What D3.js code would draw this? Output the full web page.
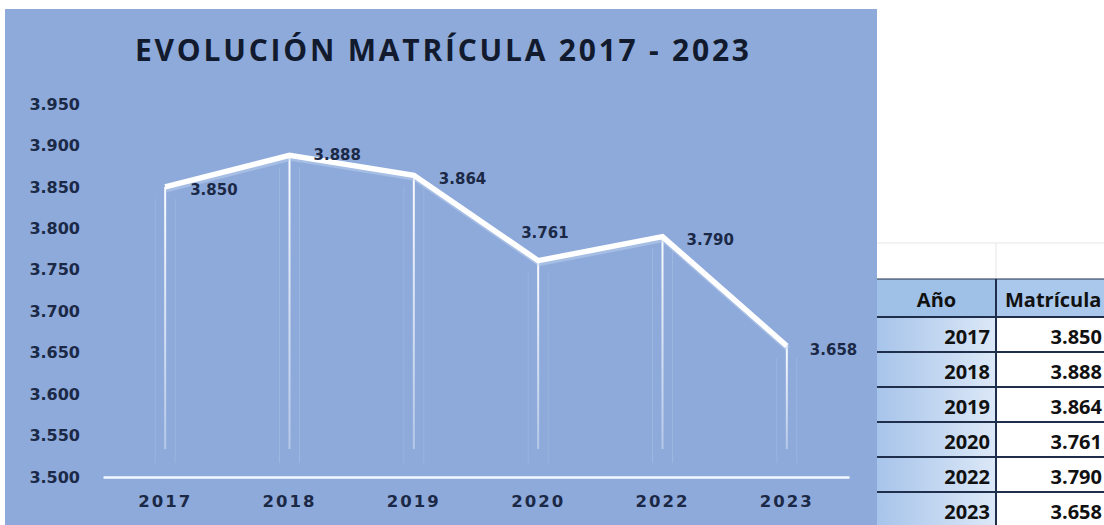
<!DOCTYPE html>
<html lang="es">
<head>
<meta charset="UTF-8">
<title>Evolución matrícula 2017 - 2023</title>
<script src="https://d3js.org/d3.v7.min.js"></script>
<style>
  body { margin: 0; background: #fff; }
  svg { display: block; }
</style>
</head>
<body>
<div id="chart"></div>
<script>
// data
const years = ["2017", "2018", "2019", "2020", "2022", "2023"];
const enrolment = [3850, 3888, 3864, 3761, 3790, 3658];
const yTicks = [3500, 3550, 3600, 3650, 3700, 3750, 3800, 3850, 3900, 3950];
const titleText = "EVOLUCIÓN  MATRÍCULA 2017 - 2023";
const tableHeader = ["Año", "Matrícula"];

// label nudges (dx, dy) so the value labels sit like in the original
const labelNudge = [[25, 3], [24, -1], [25, 3], [-17, -28], [24, 3], [23, 4]];

const W = 1104, H = 525;
const esLocale = d3.formatLocale({ decimal: ",", thousands: ".", grouping: [3], currency: ["$", ""] });
const fmt = esLocale.format(",d");

const svg = d3.select("#chart").append("svg")
    .attr("width", W)
    .attr("height", H);

const defs = svg.append("defs");
const dropGrad = defs.append("linearGradient")
    .attr("id", "dropFade").attr("x1", 0).attr("y1", 0).attr("x2", 0).attr("y2", 1);
dropGrad.append("stop").attr("offset", "0%").attr("stop-color", "#fff").attr("stop-opacity", 0.95);
dropGrad.append("stop").attr("offset", "100%").attr("stop-color", "#fff").attr("stop-opacity", 0.35);

const yearGrad = defs.append("linearGradient")
    .attr("id", "yearCell").attr("x1", 0).attr("y1", 0).attr("x2", 1).attr("y2", 0);
yearGrad.append("stop").attr("offset", "0%").attr("stop-color", "#a7c4ea");
yearGrad.append("stop").attr("offset", "100%").attr("stop-color", "#dce8f7");

// chart panel
svg.append("rect")
    .attr("x", 5).attr("y", 9)
    .attr("width", 872).attr("height", H - 9)
    .attr("fill", "#8eaadb");

svg.append("text")
    .attr("x", 442).attr("y", 61)
    .attr("text-anchor", "middle")
    .attr("textLength", 614)
    .attr("lengthAdjust", "spacing")
    .style("font-family", "'Open Sans', sans-serif")
    .style("font-weight", 700)
    .style("font-size", "30px")
    .attr("fill", "#121a2e")
    .text(titleText);

const x = d3.scaleBand().domain(years).range([103, 849]);
const y = d3.scaleLinear().domain([3500, 3950]).range([477, 104]);
const cx = d => x(d) + x.bandwidth() / 2;

// y axis labels
const yAxis = svg.append("g")
    .attr("transform", "translate(80,0)")
    .call(d3.axisLeft(y).tickValues(yTicks).tickFormat(fmt).tickSize(0).tickPadding(0));
yAxis.select(".domain").remove();
yAxis.selectAll("text")
    .style("font-family", "'DejaVu Sans', sans-serif")
    .style("font-weight", 700)
    .style("font-size", "16px")
    .attr("fill", "#1b2946");

// drop lines
const pts = years.map((yr, i) => ({ yr, v: enrolment[i], i }));
const drops = svg.append("g");
pts.forEach(p => {
    const px = cx(p.yr), py = y(p.v);
    [-10, 10].forEach(off => {
        drops.append("line")
            .attr("x1", px + off).attr("x2", px + off)
            .attr("y1", py + 12).attr("y2", y(3500) - 14)
            .attr("stroke", "#c9d8f2").attr("stroke-opacity", 0.25).attr("stroke-width", 1);
    });
    drops.append("rect")
        .attr("x", px - 1).attr("y", py)
        .attr("width", 2).attr("height", y(3500) - 28 - py)
        .attr("fill", "url(#dropFade)");
});

// x axis
const xAxis = svg.append("g")
    .attr("transform", `translate(0,${y(3500)})`)
    .call(d3.axisBottom(x).tickSize(0).tickPadding(18));
xAxis.select(".domain")
    .attr("stroke", "#f4f8ff").attr("stroke-width", 2.5);
xAxis.selectAll("text")
    .style("font-family", "'DejaVu Sans', sans-serif")
    .style("font-weight", 700)
    .style("font-size", "16.5px")
    .style("letter-spacing", "2px")
    .attr("fill", "#1b2946");

// line with soft shadow
const line = d3.line().x(d => cx(d.yr)).y(d => y(d.v));
svg.append("path")
    .datum(pts)
    .attr("d", line)
    .attr("transform", "translate(1,2.5)")
    .attr("fill", "none")
    .attr("stroke", "#c4d4ef")
    .attr("stroke-opacity", 0.45)
    .attr("stroke-width", 6);
svg.append("path")
    .datum(pts)
    .attr("d", line)
    .attr("fill", "none")
    .attr("stroke", "#ffffff")
    .attr("stroke-width", 5.5)
    .attr("stroke-linejoin", "miter");

// value labels
svg.append("g").selectAll("text")
    .data(pts)
    .join("text")
    .attr("x", d => cx(d.yr) + labelNudge[d.i][0])
    .attr("y", d => y(d.v) + labelNudge[d.i][1])
    .attr("dy", "0.36em")
    .style("font-family", "'DejaVu Sans', sans-serif")
    .style("font-weight", 700)
    .style("font-size", "15px")
    .attr("fill", "#1b2946")
    .text(d => fmt(d.v));

// table on the right
const tX0 = 877, tX1 = 996, tX2 = 1110;
const headTop = 279, headH = 38, rowH = 35;
const table = svg.append("g");

// faint sheet gridlines above the table
table.append("line").attr("x1", tX0).attr("x2", W).attr("y1", 243).attr("y2", 243)
    .attr("stroke", "#e6e6e6").attr("stroke-width", 1);
table.append("line").attr("x1", tX1).attr("x2", tX1).attr("y1", 243).attr("y2", headTop)
    .attr("stroke", "#e6e6e6").attr("stroke-width", 1);

table.append("rect").attr("x", tX0).attr("y", headTop).attr("width", tX1 - tX0).attr("height", headH)
    .attr("fill", "#9fc1e8");
table.append("rect").attr("x", tX1).attr("y", headTop).attr("width", tX2 - tX1).attr("height", headH)
    .attr("fill", "#a9c8ec");

const rows = table.selectAll("g.row")
    .data(pts)
    .join("g")
    .attr("class", "row")
    .attr("transform", d => `translate(0,${headTop + headH + d.i * rowH})`);
rows.append("rect").attr("x", tX0).attr("width", tX1 - tX0).attr("height", rowH).attr("fill", "url(#yearCell)");
rows.append("rect").attr("x", tX1).attr("width", tX2 - tX1).attr("height", rowH).attr("fill", "#fff");

const cellFont = sel => sel
    .style("font-family", "'Open Sans', sans-serif")
    .style("font-weight", 700)
    .style("font-size", "20px")
    .attr("fill", "#111");

rows.append("text").attr("x", tX1 - 6).attr("y", rowH - 8).attr("text-anchor", "end")
    .call(cellFont).text(d => d.yr);
rows.append("text").attr("x", W - 2).attr("y", rowH - 8).attr("text-anchor", "end")
    .call(cellFont).text(d => fmt(d.v));

table.append("text").attr("x", (tX0 + tX1) / 2).attr("y", headTop + headH - 10)
    .attr("text-anchor", "middle").call(cellFont).text(tableHeader[0]);
table.append("text").attr("x", tX1 + 9).attr("y", headTop + headH - 10)
    .call(cellFont).text(tableHeader[1]);

// borders
const borderYs = [headTop].concat(d3.range(pts.length + 1).map(i => headTop + headH + i * rowH));
table.selectAll("line.hb")
    .data(borderYs)
    .join("line")
    .attr("class", "hb")
    .attr("x1", tX0).attr("x2", W)
    .attr("y1", d => d).attr("y2", d => d)
    .attr("stroke", "#1f2e4a")
    .attr("stroke-width", (d, i) => i === 0 ? 1 : 2);
table.append("line").attr("x1", tX1).attr("x2", tX1).attr("y1", headTop).attr("y2", H)
    .attr("stroke", "#1f2e4a").attr("stroke-width", 2);
</script>
</body>
</html>
